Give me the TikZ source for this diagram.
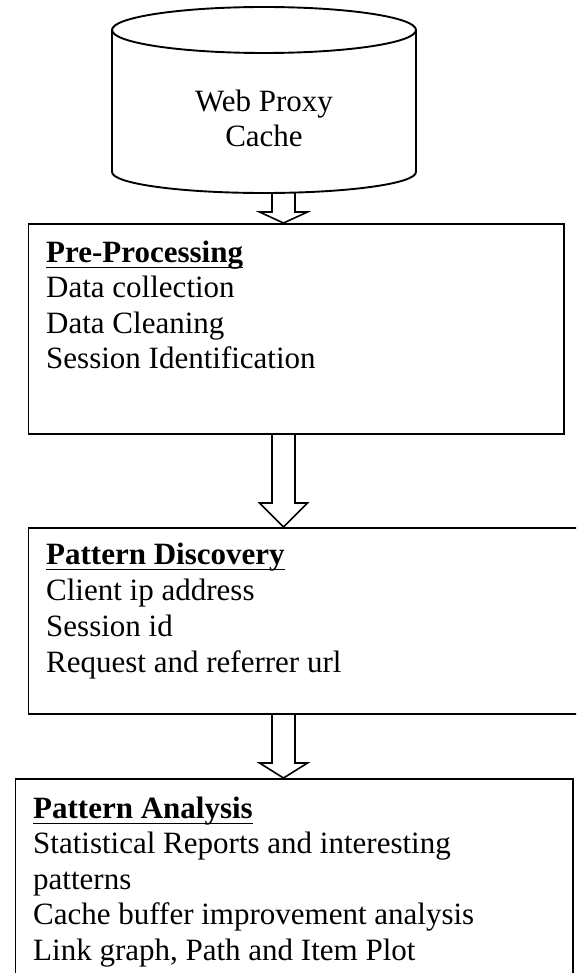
\documentclass[tikz,border=0pt]{standalone}
\usepackage{fontspec}
\setmainfont{Liberation Serif}
\usetikzlibrary{calc}
\newcommand{\hollowarrow}[3]{%
  \draw[hollow] ($(#1)+(-11.5,0)$) -- ($(#2)+(-11.5,-#3)$) -- ($(#2)+(-24,-#3)$) -- (#2)
     -- ($(#2)+(24,-#3)$) -- ($(#2)+(11.5,-#3)$) -- ($(#1)+(11.5,0)$);}
\newcommand{\uline}[1]{%
  \draw[ulinestyle] ($(#1.base west)+(0,5.5)$) -- ($(#1.base east)+(0,5.5)$);}
\begin{document}
\begin{tikzpicture}[x=1pt,y=-1pt,
  frame/.style={draw, line width=1.9pt, rectangle, inner sep=0pt, anchor=north west},
  cyl/.style={line width=1.9pt},
  hollow/.style={draw, line width=1.6pt, line join=miter},
  ulinestyle/.style={line width=1.7pt},
  txt/.style={anchor=base west, inner sep=0pt, font=\fontsize{31}{36}\selectfont},
  ctxt/.style={anchor=base, inner sep=0pt, font=\fontsize{31}{36}\selectfont}]
\useasboundingbox (0,0) rectangle (576,973);
\clip (0,0) rectangle (576,973);

% cylinder
\draw[cyl] (264,30) ellipse [x radius=152, y radius=23];
\draw[cyl] (112,30) -- (112,172) arc[start angle=180, end angle=0, x radius=152, y radius=21] -- (416,30);
\coordinate (cylbot) at (264,193);
\node[ctxt] (cyt1) at (264,112) {Web Proxy};
\node[ctxt] (cyt2) at (264,147) {Cache};

% boxes
\node[frame, minimum width=535.5pt, minimum height=210pt] (pp) at (27.5,223) {};
\node[frame, minimum width=575pt, minimum height=186pt] (pd) at (27.5,527) {};
\node[frame, minimum width=557.5pt, minimum height=222pt] (pa) at (14.5,778) {};

% box texts
\node[txt] (pp0) at (46,262) {\textbf{Pre-Processing}};
\node[txt] (pp1) at (46,297.5) {Data collection};
\node[txt] (pp2) at (46,333) {Data Cleaning};
\node[txt] (pp3) at (46,368) {Session Identification};

\node[txt] (pd0) at (46,564) {\textbf{Pattern Discovery}};
\node[txt] (pd1) at (46,600) {Client ip address};
\node[txt] (pd2) at (46,636) {Session id};
\node[txt] (pd3) at (46,672) {Request and referrer url};

\node[txt] (pa0) at (33,818) {\textbf{Pattern Analysis}};
\node[txt] (pa1) at (33,853.5) {Statistical Reports and interesting};
\node[txt] (pa2) at (33,889) {patterns};
\node[txt] (pa3) at (33,924.5) {Cache buffer improvement analysis};
\node[txt] (pa4) at (33,960) {Link graph, Path and Item Plot};

\uline{pp0}
\uline{pd0}
\uline{pa0}

% arrows
\coordinate (ax) at (283.5,0);
\coordinate (a1s) at (cylbot -| ax);
\coordinate (a1e) at (pp.north -| ax);
\coordinate (a2s) at (pp.south -| ax);
\coordinate (a2e) at (pd.north -| ax);
\coordinate (a3s) at (pd.south -| ax);
\coordinate (a3e) at (pa.north -| ax);
\hollowarrow{a1s}{a1e}{11}
\hollowarrow{a2s}{a2e}{24}
\hollowarrow{a3s}{a3e}{15}
\end{tikzpicture}
\end{document}
